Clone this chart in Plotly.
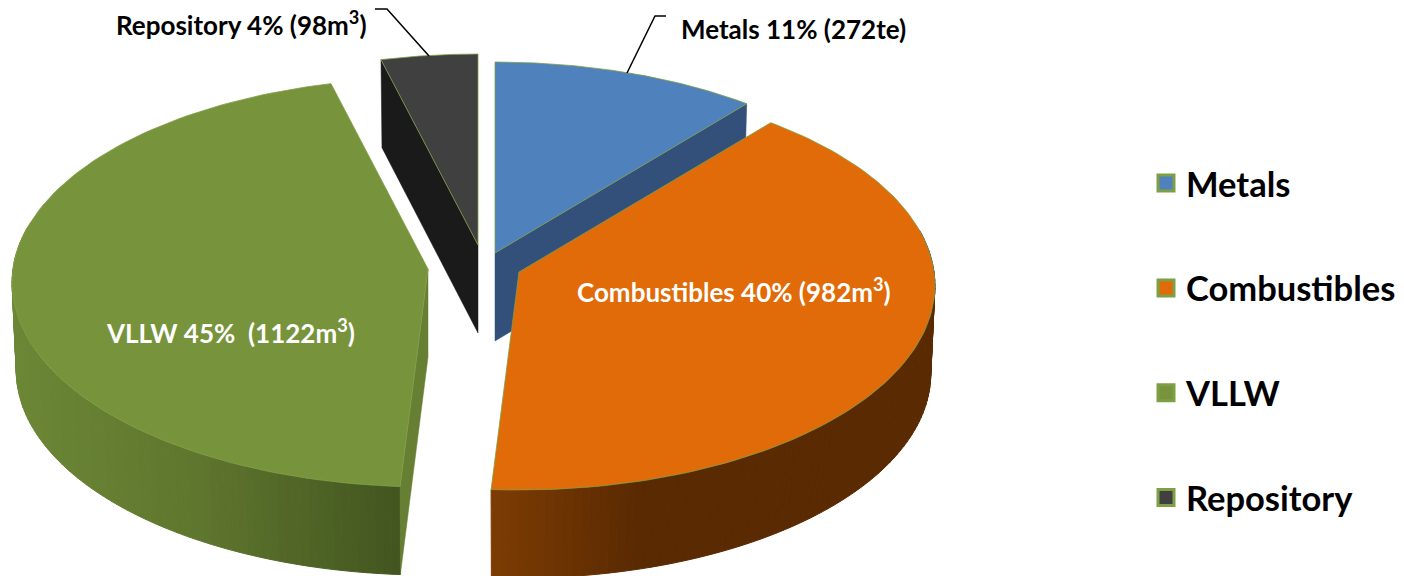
import numpy as np
import plotly.graph_objects as go

# ---- data ----
categories = ["Metals", "Combustibles", "VLLW", "Repository"]
percent = [11, 40, 45, 4]
amounts = ["272te", "982m<sup>3</sup>", "1122m<sup>3</sup>", "98m<sup>3</sup>"]
label_spacing = ["", "", " ", ""]

# ---- styling ----
top_colors = ["#4f81bd", "#e06b08", "#77933c", "#404040"]
wall_colors = ["#33507a", "#5a2a02", "#667f33", "#1a1a1a"]
edge = "#7f9f45"
FONT = "Lato"

# ---- projection of the tilted pie (pixel-like axes) ----
A, B, K = 415.0, 203.6, 0.066
DEPTH = 88.0
apex = {"Metals": (495, 253), "Combustibles": (519, 272), "VLLW": (428, 269), "Repository": (478, 245)}
side_ramps = {
    "Combustibles": ((494, 640, 930), ("#7d3c04", "#5a2a02", "#5a2a02")),
    "VLLW": ((16, 200, 397), ("#6c8736", "#5f762e", "#435620")),
}


def rim(name, deg, lower=False):
    rad = np.radians(deg)
    cx, cy = apex[name]
    w = 1 + K * np.cos(rad)
    x = A * np.sin(rad) / w * (0.99 if lower else 1.0)
    y = -B * np.cos(rad) / w
    return cx + x, cy + y + (DEPTH if lower else 0)


def hex_rgb(c):
    return [int(c[i:i + 2], 16) for i in (1, 3, 5)]


def ramp(x, stops, cols):
    rgb = [np.interp(x, stops, [hex_rgb(c)[i] for c in cols]) for i in range(3)]
    return "rgb(%d,%d,%d)" % tuple(rgb)


def poly(xs, ys, color, line=None, width=0.8, group=None):
    return go.Scatter(
        x=list(xs), y=list(ys), mode="lines", fill="toself", fillcolor=color,
        line=dict(color=line or color, width=width), hoverinfo="skip",
        showlegend=False, legendgroup=group,
    )


edges = np.cumsum([0] + percent) * 3.6
span = {c: (edges[i], edges[i + 1]) for i, c in enumerate(categories)}
idx = {c: i for i, c in enumerate(categories)}


def top_face(name):
    a0, a1 = span[name]
    deg = np.linspace(a0, a1, 120)
    x, y = rim(name, deg)
    cx, cy = apex[name]
    return poly(np.r_[cx, x, cx], np.r_[cy, y, cy], top_colors[idx[name]], edge, 0.8, name)


def wall(name, deg):
    cx, cy = apex[name]
    x0, y0 = rim(name, deg)
    x1, y1 = rim(name, deg, True)
    return poly([cx, x0, x1, cx, cx], [cy, y0, y1, cy + DEPTH, cy], wall_colors[idx[name]], wall_colors[idx[name]], 0.5, name)


def side(name, a0, a1, steps):
    stops, cols = side_ramps[name]
    out = []
    grid = np.linspace(a0, a1, steps + 1)
    for g0, g1 in zip(grid[:-1], grid[1:]):
        deg = np.linspace(g0, g1, 3)
        xt, yt = rim(name, deg)
        xb, yb = rim(name, deg, True)
        c = ramp(xt.mean(), stops, cols)
        out.append(poly(np.r_[xt, xb[::-1], xt[0]], np.r_[yt, yb[::-1], yt[0]], c, c, 1.0, name))
    return out


fig = go.Figure()
# back to front
fig.add_trace(wall("Repository", span["Repository"][0]))
fig.add_trace(top_face("Repository"))
fig.add_trace(wall("Metals", span["Metals"][1]))
fig.add_trace(top_face("Metals"))
fig.add_traces(side("VLLW", span["VLLW"][0], 282, 90))
fig.add_trace(wall("VLLW", span["VLLW"][0]))
fig.add_trace(top_face("VLLW"))
fig.add_traces(side("Combustibles", 78, span["Combustibles"][1], 90))
fig.add_trace(top_face("Combustibles"))

# legend entries
for i, c in enumerate(categories):
    fig.add_trace(go.Scatter(
        x=[None], y=[None], mode="markers", name=c, legendgroup=c,
        marker=dict(symbol="square", size=16, color=top_colors[i], line=dict(color=edge, width=3)),
    ))

# labels
texts = [f"{c} {p}% {s}({a})" for c, p, a, s in zip(categories, percent, amounts, label_spacing)]
label_pos = [(793, 29, "#000000"), (734, 290, "#ffffff"), (230, 331, "#ffffff"), (241, 23, "#000000")]
for t, (x, y, col) in zip(texts, label_pos):
    fig.add_annotation(x=x, y=y, text=t, showarrow=False, xanchor="center", yanchor="middle",
                       font=dict(family=FONT, size=26, color=col, weight="bold"))

leaders = ["M 666 16 L 655 16 L 627 73", "M 375 9 L 387 9 L 429 56"]
shapes = [dict(type="path", path=p, line=dict(color="black", width=1.5), xref="x", yref="y") for p in leaders]

fig.update_layout(
    width=1404, height=576, margin=dict(l=0, r=0, t=0, b=0),
    paper_bgcolor="white", plot_bgcolor="white", shapes=shapes,
    xaxis=dict(range=[0, 1404], visible=False, fixedrange=True),
    yaxis=dict(range=[576, 0], visible=False, fixedrange=True),
    legend=dict(
        x=1146 / 1404, y=0.4086, xanchor="left", yanchor="middle",
        font=dict(family=FONT, size=34.5, color="black", weight="bold"),
        tracegroupgap=57, traceorder="grouped", bgcolor="rgba(0,0,0,0)",
    ),
    showlegend=True,
)
fig.write_html(
    "out.html",
    config={"displayModeBar": False},
    post_script="document.body.style.margin='0';document.documentElement.style.overflow='hidden';",
)
